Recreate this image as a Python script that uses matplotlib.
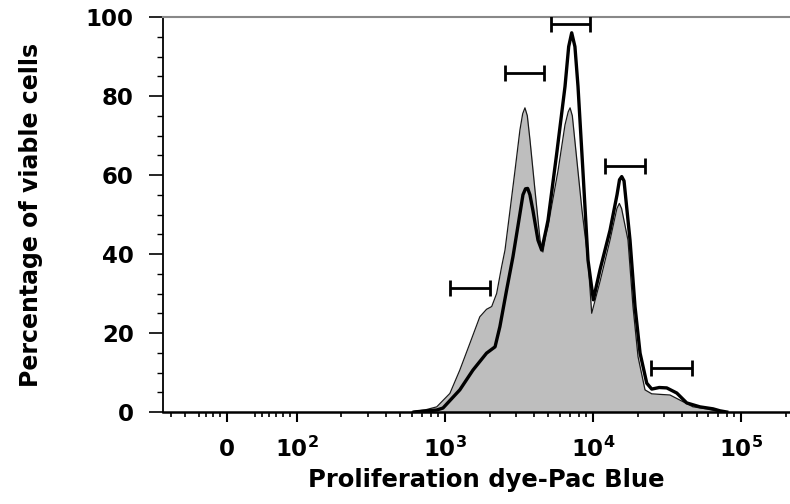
import numpy as np
import matplotlib
matplotlib.use('Agg')
import matplotlib.pyplot as plt
from matplotlib.ticker import FixedLocator

# gray filled histogram
gray_x = [600, 630, 730, 880, 1080, 1260, 1475, 1720, 1910, 2070, 2235, 2415, 2545,
          2750, 2970, 3210, 3350, 3470, 3600, 3750, 4060, 4390, 4590, 4810, 4970,
          5800, 6470, 6800, 7000, 7250, 7670, 8430, 9250, 9800, 11150, 13030, 14500,
          15060, 15600, 17230, 18620, 20140, 22450, 24930, 33130, 38700, 47400,
          58600, 72100]
gray_y = [0, 0.2, 0.5, 1.3, 4.7, 10.6, 17.4, 24.1, 26.0, 26.7, 30.0, 36.8, 41.0,
          51.0, 61.0, 71.4, 75.5, 77.0, 75.0, 69.0, 56.0, 43.5, 40.5, 45.0, 47.0,
          61.0, 72.7, 76.0, 77.0, 75.0, 66.0, 51.0, 38.5, 25.0, 33.0, 43.5, 51.5,
          52.8, 51.5, 43.5, 26.7, 14.0, 5.6, 4.6, 4.3, 3.0, 1.3,
          0.8, 0]

# thick black histogram
black_x = [620, 700, 880, 970, 1260, 1545, 1910, 2180, 2350, 2610, 2880, 3110, 3365,
           3500, 3620, 3750, 3930, 4250, 4500, 4810, 4970, 5690, 6470, 6850, 7180,
           7550, 7920, 8550, 9250, 10050, 11150, 13030, 14530, 15100, 15630, 16200,
           17780, 19220, 20790, 23060, 24930, 28000, 31480, 36800, 42950, 52800,
           64700, 72100, 80000]
black_y = [0, 0.2, 0.5, 1.0, 5.6, 10.6, 14.9, 16.5, 21.6, 30.9, 39.3, 47.0, 55.0,
           56.5, 56.6, 55.0, 51.0, 43.5, 41.0, 46.0, 48.6, 65.5, 82.4, 92.5, 96.0,
           92.5, 82.4, 61.0, 38.5, 28.4, 36.0, 46.0, 55.0, 58.8, 59.6, 58.5,
           43.5, 26.7, 14.9, 7.3, 5.8, 6.2, 6.1, 4.8, 2.3, 1.3,
           0.8, 0.3, 0]

# gates: left, right, height
gate_left = [1080, 2545, 5200, 12050, 24550]
gate_right = [2015, 4660, 9550, 22450, 46900]
gate_y = [31.3, 85.7, 98.2, 62.3, 11.2]

xtick_vals = [0, 1e2, 1e3, 1e4, 1e5]
xtick_labels = ['$\\mathbf{0}$', '$\\mathbf{10^{2}}$', '$\\mathbf{10^{3}}$',
                '$\\mathbf{10^{4}}$', '$\\mathbf{10^{5}}$']

plt.rcParams['font.family'] = ['DejaVu Sans']
plt.rcParams['font.weight'] = 'bold'
plt.rcParams['mathtext.fontset'] = 'dejavusans'

fig = plt.figure(figsize=(7.9, 5.04), dpi=100)
ax = fig.add_axes([163 / 790, 92 / 504, 627 / 790, 395 / 504])

ax.fill_between(gray_x, gray_y, 0, color='#bebebe', lw=0, zorder=1)
ax.plot(gray_x, gray_y, color='#1a1a1a', lw=0.9, zorder=2)
ax.plot(black_x, black_y, color='black', lw=2.4, zorder=3, solid_joinstyle='round')

for l, r, y in zip(gate_left, gate_right, gate_y):
    ax.errorbar((l + r) / 2, y, xerr=(r - l) / 2, fmt='none', ecolor='black',
                elinewidth=2.0, capsize=6, capthick=2.0, zorder=4)

ax.set_xscale('symlog', linthresh=100, linscale=0.426)
ax.set_xlim(-91, 2.14e5)
ax.set_ylim(0, 100)

minor = [-80, -60, -40, -30, -20, -10, 40, 50, 60, 70, 80, 90]
for d in [1e2, 1e3, 1e4, 1e5]:
    minor += [m * d for m in range(2, 10)]
ax.set_xticks(xtick_vals, xtick_labels, va='baseline')
ax.xaxis.set_minor_locator(FixedLocator(minor))
ax.set_yticks(np.arange(0, 101, 20))
ax.yaxis.set_minor_locator(FixedLocator(np.arange(0, 101, 5)))

ax.tick_params(axis='x', which='major', direction='out', length=7, width=1.5,
               labelsize=16.5, pad=25)
ax.tick_params(axis='x', which='minor', direction='out', length=3.5, width=1.2)
ax.tick_params(axis='y', which='major', direction='out', length=10, width=1.2,
               labelsize=16.5, pad=11)
ax.tick_params(axis='y', which='minor', direction='out', length=4, width=1.0)

ax.spines['right'].set_visible(False)
ax.spines['top'].set_color('#888888')
ax.spines['top'].set_linewidth(1.5)
ax.spines['left'].set_linewidth(1.3)
ax.spines['bottom'].set_linewidth(1.8)

ax.set_xlabel('Proliferation dye-Pac Blue', fontsize=17.5, fontweight='bold')
ax.set_ylabel('Percentage of viable cells', fontsize=17, fontweight='bold')
ax.xaxis.set_label_coords(0.515, -0.142)
ax.yaxis.set_label_coords(-0.192, 0.5)

fig.savefig('out.png', dpi=100)
